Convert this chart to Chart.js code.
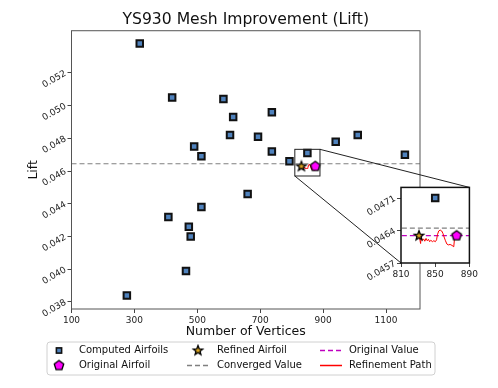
<!DOCTYPE html>
<html>
<head>
<meta charset="utf-8">
<script src="https://cdn.jsdelivr.net/npm/chart.js@4.4.1/dist/chart.umd.min.js"></script>
<style>
  html, body { margin: 0; padding: 0; background: #fff; }
  #wrap { position: relative; width: 498px; height: 388px; }
  #mainChart { position: absolute; left: 0; top: 0; }
  #insetChart { position: absolute; left: 330px; top: 180px; }
</style>
</head>
<body>
<div id="wrap">
  <canvas id="mainChart" width="498" height="388"></canvas>
  <canvas id="insetChart" width="150" height="100"></canvas>
</div>
<script>
// values
const computedVertices = [317, 420, 583, 614, 737, 604, 693, 490, 513, 737, 793, 850, 940, 1010, 1160, 660, 513, 408, 473, 479, 464, 276];
const computedLift = [0.0538, 0.0505, 0.0504, 0.0493, 0.0496, 0.0482, 0.0481, 0.0475, 0.0469, 0.0472, 0.0466, 0.0471, 0.0478, 0.0482, 0.0470, 0.0446, 0.0438, 0.0432, 0.0426, 0.0420, 0.0399, 0.0384];

const refinedVertices = [831];
const refinedLift = [0.04629];
const originalVertices = [875];
const originalLift = [0.04629];

const pathVertices = [831, 832.2, 832.9, 833.6, 835, 836.4, 837.8, 839.3, 840.7, 842.1, 843.5, 844.9, 846.7, 848.4, 850.2, 851.6, 852.6, 854.1, 855.8, 857.6, 859, 860.4, 861.8, 863.6, 865.3, 867.4, 869.6, 871.7, 872.4, 873.8, 875];
const pathLift = [0.04629, 0.04619, 0.04612, 0.04625, 0.04619, 0.04622, 0.04617, 0.04623, 0.04618, 0.04621, 0.04616, 0.04619, 0.04616, 0.04618, 0.04616, 0.0462, 0.04631, 0.04639, 0.04641, 0.04639, 0.04634, 0.04626, 0.04619, 0.04611, 0.04609, 0.0461, 0.04608, 0.04605, 0.04619, 0.04626, 0.04629];

const convergedValue = 0.04645;
const originalValue = 0.04629;

const mainXRange = [100, 1208];
const mainYRange = [0.03757, 0.05458];
const insetXRange = [810, 890];
const insetYRange = [0.0457, 0.04733];

const mainXTicks = [100, 300, 500, 700, 900, 1100];
const mainYTicks = [0.038, 0.040, 0.042, 0.044, 0.046, 0.048, 0.050, 0.052];
const insetXTicks = [810, 850, 890];
const insetYTicks = [0.0457, 0.0464, 0.0471];

const FONT = 'DejaVu Sans';

function toPoints(xs, ys) {
    return xs.map((x, i) => ({ x: x, y: ys[i] }));
}

function makeMarker(kind, size, fill) {
    const c = document.createElement('canvas');
    c.width = c.height = Math.ceil(size + 4);
    const g = c.getContext('2d');
    const cx = c.width / 2, cy = c.height / 2, r = size / 2;
    g.beginPath();
    if (kind == 'pentagon') {
        for (let i = 0; i < 5; i++) {
            const a = -Math.PI / 2 + i * 2 * Math.PI / 5;
            g.lineTo(cx + r * Math.cos(a), cy + r * Math.sin(a));
        }
    } else {
        for (let i = 0; i < 10; i++) {
            const a = -Math.PI / 2 + i * Math.PI / 5;
            const rr = i % 2 ? r * 0.42 : r;
            g.lineTo(cx + rr * Math.cos(a), cy + rr * Math.sin(a));
        }
    }
    g.closePath();
    g.fillStyle = fill;
    g.fill();
    g.lineWidth = 1.3;
    g.strokeStyle = '#000';
    g.stroke();
    return c;
}

const starImg = makeMarker('star', 10, '#daa520');
const pentImg = makeMarker('pentagon', 10, '#ff00ff');

function hLine(value) {
    return [{ x: mainXRange[0], y: value }, { x: mainXRange[1], y: value }];
}

function buildDatasets(withOriginalLine) {
    const sets = [
        {
            label: 'Original Airfoil', order: 0,
            data: toPoints(originalVertices, originalLift),
            pointStyle: pentImg, pointRadius: 5
        },
        {
            label: 'Refined Airfoil', order: 1,
            data: toPoints(refinedVertices, refinedLift),
            pointStyle: starImg, pointRadius: 5
        },
        {
            label: 'Computed Airfoils', order: 2,
            data: toPoints(computedVertices, computedLift),
            pointStyle: 'rect', pointRadius: 4.6,
            backgroundColor: '#4f82bd', borderColor: '#111', borderWidth: 2
        },
        {
            label: 'Refinement Path', order: 3,
            data: toPoints(pathVertices, pathLift),
            showLine: true, pointRadius: 0, borderColor: '#ff0000', borderWidth: 1
        },
        {
            label: 'Converged Value', order: 4,
            data: hLine(convergedValue),
            showLine: true, pointRadius: 0, borderColor: '#808080', borderWidth: 1.2, borderDash: [5, 3]
        }
    ];
    if (withOriginalLine) {
        sets.push({
            label: 'Original Value', order: 5,
            data: hLine(originalValue),
            showLine: true, pointRadius: 0, borderColor: '#bf00bf', borderWidth: 1.2, borderDash: [5, 3]
        });
    }
    return sets;
}

function axis(range, ticks, fmt, extra) {
    return Object.assign({
        type: 'linear',
        min: range[0],
        max: range[1],
        afterBuildTicks: function(scale) {
            scale.ticks = ticks.map(v => ({ value: v }));
        },
        grid: { display: true, drawOnChartArea: false, drawTicks: true, tickLength: 4, color: '#444' },
        border: { display: false },
        ticks: {
            autoSkip: false,
            font: { family: FONT, size: 9 },
            color: '#222',
            padding: 2,
            callback: fmt
        }
    }, extra);
}

// white panel + frame around the plot area
const framePlugin = {
    id: 'frame',
    beforeDatasetsDraw(chart, args, opts) {
        const a = chart.chartArea;
        const ctx = chart.ctx;
        ctx.save();
        ctx.fillStyle = '#fff';
        ctx.fillRect(a.left, a.top, a.right - a.left, a.bottom - a.top);
        ctx.restore();
    },
    afterDatasetsDraw(chart, args, opts) {
        const a = chart.chartArea;
        const ctx = chart.ctx;
        ctx.save();
        ctx.strokeStyle = opts.color || '#555';
        ctx.lineWidth = opts.width || 1;
        ctx.strokeRect(a.left, a.top, a.right - a.left, a.bottom - a.top);
        ctx.restore();
    }
};

const insetChart = new Chart(document.getElementById('insetChart').getContext('2d'), {
    type: 'scatter',
    data: { datasets: buildDatasets(true) },
    plugins: [framePlugin],
    options: {
        responsive: false,
        animation: false,
        layout: { padding: { top: 6, right: 3, left: 0, bottom: 0 } },
        plugins: {
            legend: { display: false },
            tooltip: { enabled: false },
            frame: { color: '#111', width: 1.5 }
        },
        scales: {
            x: axis(insetXRange, insetXTicks, v => String(v), {
                afterFit: s => { s.height = 17; }
            }),
            y: axis(insetYRange, insetYTicks, v => v.toFixed(4), {
                afterFit: s => { s.width = 71; },
                ticks: {
                    autoSkip: false, font: { family: FONT, size: 9 }, color: '#222',
                    padding: 2, minRotation: 30, maxRotation: 30, callback: v => v.toFixed(4)
                }
            })
        }
    }
});

const legendOrder = ['Computed Airfoils', 'Original Airfoil', 'Refined Airfoil', 'Converged Value', 'Original Value', 'Refinement Path'];

const extrasPlugin = {
    id: 'extras',
    afterDraw(chart) {
        const ctx = chart.ctx;
        const xs = chart.scales.x, ys = chart.scales.y;
        // zoom rectangle and connector lines to the inset
        const rx0 = xs.getPixelForValue(insetXRange[0]), rx1 = xs.getPixelForValue(insetXRange[1]);
        const ry0 = ys.getPixelForValue(insetYRange[1]), ry1 = ys.getPixelForValue(insetYRange[0]);
        const ic = insetChart.canvas, ia = insetChart.chartArea;
        const ix0 = ic.offsetLeft + ia.left, ix1 = ic.offsetLeft + ia.right;
        const iy0 = ic.offsetTop + ia.top, iy1 = ic.offsetTop + ia.bottom;
        ctx.save();
        ctx.strokeStyle = '#222';
        ctx.lineWidth = 1;
        ctx.strokeRect(rx0, ry0, rx1 - rx0, ry1 - ry0);
        ctx.beginPath();
        ctx.moveTo(rx1, ry0); ctx.lineTo(ix1, iy0);
        ctx.moveTo(rx0, ry1); ctx.lineTo(ix0, iy1);
        ctx.stroke();

        // legend box, 3 columns x 2 rows
        const bx = 47, by = 342, bw = 388, bh = 33;
        ctx.fillStyle = 'rgba(255,255,255,0.85)';
        ctx.strokeStyle = '#d0d0d0';
        ctx.beginPath();
        ctx.roundRect(bx, by, bw, bh, 3);
        ctx.fill();
        ctx.stroke();
        const colMark = [59, 198, 331];
        const colText = [79, 217, 349];
        const rowY = [350.5, 365.5];
        const sets = insetChart.data.datasets;
        ctx.font = '10px "' + FONT + '"';
        ctx.textBaseline = 'middle';
        legendOrder.forEach((name, i) => {
            const ds = sets.find(d => d.label == name);
            const col = Math.floor(i / 2), row = i % 2;
            const mx = colMark[col], my = rowY[row];
            if (ds.showLine) {
                ctx.save();
                ctx.strokeStyle = ds.borderColor;
                ctx.lineWidth = 1.5;
                ctx.setLineDash(ds.borderDash || []);
                ctx.beginPath();
                ctx.moveTo(mx - 11, my); ctx.lineTo(mx + 11, my);
                ctx.stroke();
                ctx.restore();
            } else if (ds.pointStyle == 'rect') {
                ctx.fillStyle = ds.backgroundColor;
                ctx.strokeStyle = ds.borderColor;
                ctx.lineWidth = 1.6;
                ctx.fillRect(mx - 2.6, my - 2.6, 5.2, 5.2);
                ctx.strokeRect(mx - 2.6, my - 2.6, 5.2, 5.2);
            } else {
                const img = ds.pointStyle;
                const s = 14;
                ctx.drawImage(img, mx - s / 2, my - s / 2, s, s);
            }
            ctx.fillStyle = '#111';
            ctx.fillText(name, colText[col], my);
        });
        ctx.restore();
    }
};

new Chart(document.getElementById('mainChart').getContext('2d'), {
    type: 'scatter',
    data: { datasets: buildDatasets(false) },
    plugins: [framePlugin, extrasPlugin],
    options: {
        responsive: false,
        animation: false,
        layout: { padding: { top: 0, right: 78, left: 0, bottom: 0 } },
        plugins: {
            legend: { display: false },
            tooltip: { enabled: false },
            frame: { color: '#555', width: 1 },
            title: {
                display: true,
                fullSize: false,
                text: 'YS930 Mesh Improvement (Lift)',
                font: { family: FONT, size: 15.6, weight: 'normal' },
                color: '#111',
                padding: { top: 11, bottom: 1 }
            }
        },
        scales: {
            x: axis(mainXRange, mainXTicks, v => String(v), {
                afterFit: s => { s.height = 79; },
                title: {
                    display: true, text: 'Number of Vertices', color: '#111',
                    font: { family: FONT, size: 12.5 },
                    padding: { top: 0, bottom: 49 }
                }
            }),
            y: axis(mainYRange, mainYTicks, v => v.toFixed(3), {
                afterFit: s => { s.width = 71.5; },
                title: {
                    display: true, text: 'Lift', color: '#111',
                    font: { family: FONT, size: 12.5 },
                    padding: { top: 26, bottom: 0 }
                },
                ticks: {
                    autoSkip: false, font: { family: FONT, size: 9 }, color: '#222',
                    padding: 2, minRotation: 30, maxRotation: 30, callback: v => v.toFixed(3)
                }
            })
        }
    }
});
</script>
</body>
</html>
